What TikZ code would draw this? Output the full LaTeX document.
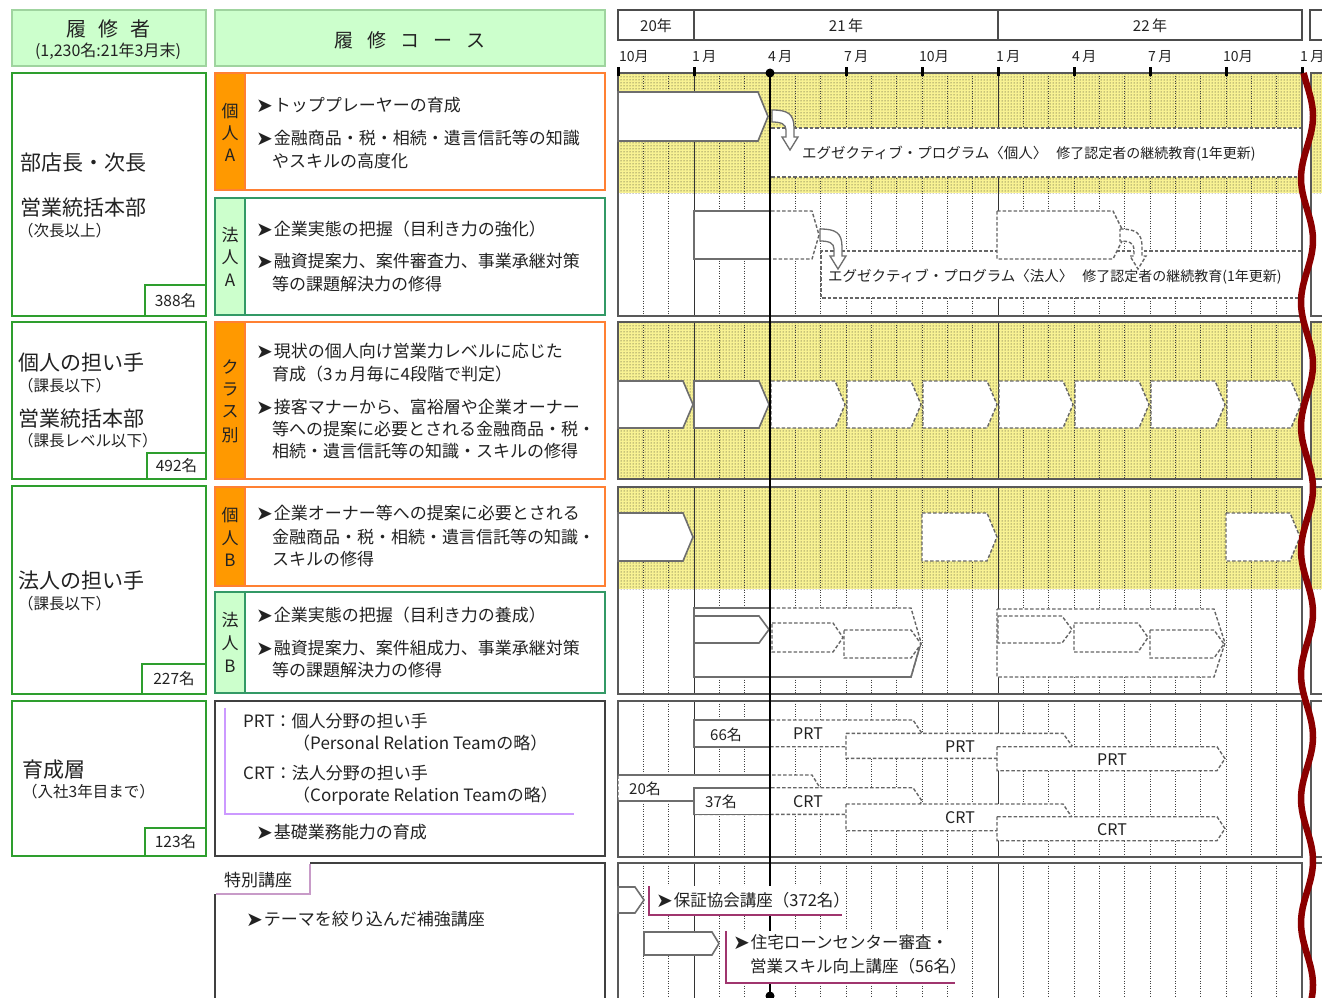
\documentclass[tikz,border=0pt]{standalone}
\usepackage{fontspec}
\setmainfont{Noto Sans CJK JP}
\newfontfamily\dejavu{DejaVu Sans}
\usetikzlibrary{patterns}
\definecolor{hdrfill}{HTML}{CCFFCC}
\definecolor{hdrdraw}{HTML}{9FD49F}
\definecolor{lgreen}{HTML}{2E9E2E}
\definecolor{cgreen}{HTML}{339966}
\definecolor{corange}{HTML}{FF8033}
\definecolor{orfill}{HTML}{FF9900}
\definecolor{ybg}{HTML}{F8F293}
\definecolor{wred}{HTML}{8B0000}
\definecolor{purp}{HTML}{CC99FF}
\definecolor{mauve}{HTML}{C89BC8}
\definecolor{callc}{HTML}{A0356E}
\definecolor{sgray}{HTML}{6E6E6E}
\definecolor{ink}{HTML}{222222}
\newcommand{\fs}[1]{\fontsize{#1}{#1}\selectfont}
\newcommand{\bul}{{\dejavu\fs{20}\raisebox{-1pt}{➤}}\hspace{1pt}}
\newcommand{\penta}[6][]{\draw[#1] (#2,#4) -- ({#3-#6},#4) -- (#3,{(#4+#5)/2}) -- ({#3-#6},#5) -- (#2,#5) -- cycle;}
\newcommand{\tpanel}[3]{%
  \fill[white] (618,#1) rectangle (1302,#2);
  \fill[white] (1311,#1) rectangle (1340,#2);
  \ifdim #3pt>#1pt
    \fill[ybg] (618,#1) rectangle (1302,#3);
    \fill[pattern=dots, pattern color=black!85] (618,#1) rectangle (1302,#3);
    \fill[ybg] (1311,#1) rectangle (1340,#3);
    \fill[pattern=dots, pattern color=black!85] (1311,#1) rectangle (1340,#3);
  \fi
  \foreach \k in {1,...,26}{\draw[mline] ({618+\k*76/3},#1) -- ({618+\k*76/3},#2);}
  \draw[yline] (694,#1) -- (694,#2);
  \draw[yline] (998,#1) -- (998,#2);
  \draw[pbord] (618,#1) rectangle (1302,#2);
  \draw[pbord] (1311,#1) rectangle (1340,#2);
}
\tikzset{uturn/.pic={
  \draw[pic actions] (0,0) .. controls (16,0) and (22,4) .. (22,18) -- (22,27) -- (26,27) -- (18,40) -- (10,27) -- (14,27) -- (14,20) .. controls (14,14) and (9,12) .. (0,12) -- cycle;
}}
\begin{document}
\begin{tikzpicture}[x=1pt,y=-1pt,
  hbox/.style={draw=black!70, line width=1.2pt, fill=white},
  mline/.style={black!75, line width=0.7pt, dash pattern=on 1pt off 1.5pt},
  yline/.style={black!80, line width=1pt},
  pbord/.style={draw=black!65, line width=1.5pt},
  sshape/.style={draw=sgray, line width=1.6pt, fill=white},
  dshape/.style={draw=black!60, line width=1.4pt, dash pattern=on 3.5pt off 2pt, fill=white},
  dline/.style={draw=black!60, line width=1.4pt, dash pattern=on 3.5pt off 2pt},
  sline/.style={draw=sgray, line width=1.6pt},
  hdr/.style={draw=hdrdraw, line width=2pt, fill=hdrfill},
  lbox/.style={draw=lgreen, line width=2pt, fill=white},
  obox/.style={draw=corange, line width=2pt},
  gbox/.style={draw=cgreen, line width=2pt},
  kbox/.style={draw=black!75, line width=1.2pt},
  tt/.style={inner sep=0pt, anchor=west, text=ink},
  big/.style={tt, font=\fs{21}},
  sml/.style={tt, font=\fs{15.5}},
  cnt/.style={inner sep=0pt, text=ink, font=\fs{15.5}},
  ct/.style={tt, font=\fs{17}},
  sl/.style={inner sep=0pt, text=ink, font=\fs{17}},
  tl/.style={tt, font=\fs{14}},
  rl/.style={inner sep=0pt, text=ink, font=\fs{16}},
]
\useasboundingbox (0,0) rectangle (1322,998);
\fill[white] (0,0) rectangle (1322,998);

% ---------- headers ----------
\draw[hdr] (12,10) rectangle (206,66);
\draw[hdr] (215,10) rectangle (605,66);
\node[inner sep=0pt, text=ink, font=\fs{20}] (h1) at (108,29) {履\hspace{12pt}修\hspace{12pt}者};
\node[inner sep=0pt, text=ink, font=\fs{16}] (h2) at (108,51) {(1,230名:21年3月末)};
\node[inner sep=0pt, text=ink, font=\fs{19}] (h3) at (410,40) {履\hspace{14pt}修\hspace{14pt}コ\hspace{14pt}ー\hspace{14pt}ス};

% ---------- left column ----------
\draw[lbox] (12,73) rectangle (206,316);
\draw[lbox] (145,285) rectangle (206,316);
\draw[lbox] (12,322) rectangle (206,479);
\draw[lbox] (147,453) rectangle (206,479);
\draw[lbox] (12,486) rectangle (206,694);
\draw[lbox] (142,664) rectangle (206,694);
\draw[lbox] (12,701) rectangle (206,856);
\draw[lbox] (145,828) rectangle (206,856);
\node[big] (n1) at (20,163) {部店長・次長};
\node[big] (n2) at (20,208) {営業統括本部};
\node[sml] (n3) at (18,231) {（次長以上）};
\node[big] (n4) at (18,363) {個人の担い手};
\node[sml] (n5) at (18,386) {（課長以下）};
\node[big] (n6) at (18,419) {営業統括本部};
\node[sml] (n7) at (18,441) {（課長レベル以下）};
\node[big] (n8) at (18,581) {法人の担い手};
\node[sml] (n9) at (18,604) {（課長以下）};
\node[big] (n10) at (22,770) {育成層};
\node[sml] (n11) at (22,792) {（入社3年目まで）};
\node[cnt] (c1) at (175.5,300.5) {388名};
\node[cnt] (c2) at (176.5,466) {492名};
\node[cnt] (c3) at (174,679) {227名};
\node[cnt] (c4) at (175.5,842) {123名};

% ---------- course column ----------
\fill[orfill] (215,73) rectangle (245,190);
\draw[obox] (215,73) rectangle (605,190) (245,73) -- (245,190);
\fill[hdrfill] (215,198) rectangle (245,315);
\draw[gbox] (215,198) rectangle (605,315) (245,198) -- (245,315);
\fill[orfill] (215,322) rectangle (245,479);
\draw[obox] (215,322) rectangle (605,479) (245,322) -- (245,479);
\fill[orfill] (215,487) rectangle (245,586);
\draw[obox] (215,487) rectangle (605,586) (245,487) -- (245,586);
\fill[hdrfill] (215,592) rectangle (245,693);
\draw[gbox] (215,592) rectangle (605,693) (245,592) -- (245,693);
\draw[kbox] (215,701) rectangle (605,856);
\draw[kbox] (215,863) rectangle (605,1005);

\node[sl] (s1) at (230,111) {個};
\node[sl] (s2) at (230,133) {人};
\node[sl] (s3) at (230,155) {A};
\node[sl] (s4) at (230,235) {法};
\node[sl] (s5) at (230,257) {人};
\node[sl] (s6) at (230,280) {A};
\node[sl] (s7) at (230,367) {ク};
\node[sl] (s8) at (230,390) {ラ};
\node[sl] (s9) at (230,412) {ス};
\node[sl] (s10) at (230,435) {別};
\node[sl] (s11) at (230,515) {個};
\node[sl] (s12) at (230,538) {人};
\node[sl] (s13) at (230,560) {B};
\node[sl] (s14) at (230,620) {法};
\node[sl] (s15) at (230,643) {人};
\node[sl] (s16) at (230,666) {B};

\node[ct] (a1) at (256,105) {\bul トッププレーヤーの育成};
\node[ct] (a2) at (256,138) {\bul 金融商品・税・相続・遺言信託等の知識};
\node[ct] (a3) at (272,161) {やスキルの高度化};
\node[ct] (b1) at (256,229) {\bul 企業実態の把握（目利き力の強化）};
\node[ct] (b2) at (256,261) {\bul 融資提案力、案件審査力、事業承継対策};
\node[ct] (b3) at (272,284) {等の課題解決力の修得};
\node[ct] (k1) at (256,351) {\bul 現状の個人向け営業力レベルに応じた};
\node[ct] (k2) at (272,374) {育成（3ヵ月毎に4段階で判定）};
\node[ct] (k3) at (256,407) {\bul 接客マナーから、富裕層や企業オーナー};
\node[ct] (k4) at (272,429) {等への提案に必要とされる金融商品・税・};
\node[ct] (k5) at (272,451) {相続・遺言信託等の知識・スキルの修得};
\node[ct] (d1) at (256,513) {\bul 企業オーナー等への提案に必要とされる};
\node[ct] (d2) at (272,537) {金融商品・税・相続・遺言信託等の知識・};
\node[ct] (d3) at (272,559) {スキルの修得};
\node[ct] (e1) at (256,615) {\bul 企業実態の把握（目利き力の養成）};
\node[ct] (e2) at (256,648) {\bul 融資提案力、案件組成力、事業承継対策};
\node[ct] (e3) at (272,670) {等の課題解決力の修得};

\draw[purp, line width=2.5pt] (225,708) -- (225,814) -- (574,814);
\node[ct] (f1) at (243,721) {PRT：個人分野の担い手};
\node[ct] (f2) at (293,743) {（Personal Relation Teamの略）};
\node[ct] (f3) at (243,773) {CRT：法人分野の担い手};
\node[ct] (f4) at (293,796) {（Corporate Relation Teamの略）};
\node[ct] (f5) at (256,832) {\bul 基礎業務能力の育成};

\fill[white] (214,861) rectangle (310,894);
\draw[mauve, line width=2.5pt] (310,864) -- (310,894) -- (216,894);
\node[ct] (g0) at (224,880) {特別講座};
\node[ct] (g1) at (246,919) {\bul テーマを絞り込んだ補強講座};

% ---------- timeline header ----------
\draw[hbox] (618,10) rectangle (694,40);
\draw[hbox] (694,10) rectangle (998,40);
\draw[hbox] (998,10) rectangle (1302,40);
\draw[hbox] (1310,10) rectangle (1340,40);
\node[rl, font=\fs{15}] (y20) at (656,26) {20年};
\node[rl, font=\fs{15}] (y21) at (846,26) {21\,年};
\node[rl, font=\fs{15}] (y22) at (1150,26) {22\,年};
\node[tl] (m1) at (619,57) {10月};
\node[tl] (m2) at (692,57) {1\,月};
\node[tl] (m3) at (768,57) {4\,月};
\node[tl] (m4) at (844,57) {7\,月};
\node[tl] (m5) at (919,57) {10月};
\node[tl] (m6) at (996,57) {1\,月};
\node[tl] (m7) at (1072,57) {4\,月};
\node[tl] (m8) at (1148,57) {7\,月};
\node[tl] (m9) at (1223,57) {10月};
\node[tl] (m10) at (1300,57) {1\,月};

% ---------- timeline panels ----------
\tpanel{73}{316}{193}
\tpanel{322}{479}{479}
\tpanel{487}{694}{589}
\tpanel{701}{857}{701}
\tpanel{863}{1010}{863}

\foreach \x in {618,694,846,922,998,1074,1150,1226,1302} \fill[black] ({\x-1.5},67) rectangle ({\x+1.5},76);

% row: individual A
\penta[sshape]{618}{768}{92}{141}{10}
\fill[white] (771,128) rectangle (1301,177);
\draw[dline] (771,128) -- (1301,128) (771,177) -- (1301,177);
\pic[draw=sgray, fill=white, line width=1.3pt] at (772,110) {uturn};
\node[tt, font=\fs{14.5}] (x1) at (802,154) {エグゼクティブ・プログラム〈個人〉\hspace{9pt}{\fs{14}修了認定者の継続教育(1年更新)}};

% row: corporate A
\fill[white] (821,251) rectangle (1301,298);
\draw[dline] (1301,251) -- (821,251) -- (821,298) -- (1301,298);
\penta[dshape]{694}{819}{211}{259}{7}
\draw[sline] (770,211) -- (694,211) -- (694,259) -- (770,259);
\penta[dshape]{997}{1125}{211}{259}{12}
\pic[draw=sgray, fill=white, line width=1.3pt] at (820,229) {uturn};
\pic[dshape] at (1120,229) {uturn};
\node[tt, font=\fs{14.5}] (x2) at (828,277) {エグゼクティブ・プログラム〈法人〉\hspace{9pt}{\fs{14}修了認定者の継続教育(1年更新)}};

% row: class
\foreach \x in {618,694} {\penta[sshape]{\x}{\x+75}{381}{428}{10}}
\foreach \x in {770,846,...,1226} {\penta[dshape]{\x+1}{\x+75}{381}{428}{10}}

% row: individual B
\penta[sshape]{618}{693}{513}{561}{10}
\penta[dshape]{922}{997}{513}{561}{10}
\penta[dshape]{1226}{1300}{513}{561}{10}

% row: corporate B
\penta[dshape]{694}{921}{608}{677}{10}
\draw[sline] (770,608) -- (694,608) -- (694,677) -- (911,677) -- (921,642.5);
\penta[sshape]{694}{769}{616}{643}{10}
\penta[dshape]{772}{843}{623}{652}{10}
\penta[dshape]{844}{921}{630}{658}{10}
\penta[dshape]{997}{1225}{609}{677}{11}
\penta[dshape]{998}{1072}{616}{643}{10}
\penta[dshape]{1074}{1148}{623}{652}{10}
\penta[dshape]{1150}{1224}{630}{658}{10}

% row: PRT / CRT
\penta[dshape]{694}{922}{720}{746.7}{9}
\penta[dshape]{846}{1072}{733.3}{758.3}{9}
\penta[dshape]{997}{1225}{746.7}{770.7}{8}
\draw[sline, fill=white] (770,720) -- (694,720) -- (694,746.7) -- (770,746.7);
\penta[dshape]{618}{820}{775}{800.7}{8}
\penta[dshape]{694}{922}{787.7}{814.3}{9}
\penta[dshape]{846}{1072}{804}{830.7}{9}
\penta[dshape]{997}{1225}{816.7}{840.7}{8}
\draw[sline] (770,775) -- (618,775) (618,800.7) -- (694,800.7);
\draw[sline, fill=white] (770,787.7) -- (694,787.7) -- (694,814.3) -- (770,814.3);
\node[cnt, font=\fs{15}] (p66) at (726,735) {66名};
\node[cnt, font=\fs{15}] (p20) at (645,789) {20名};
\node[cnt, font=\fs{15}] (p37) at (721,802) {37名};
\node[rl] (pr1) at (808,734) {PRT};
\node[rl] (pr2) at (960,747) {PRT};
\node[rl] (pr3) at (1112,760) {PRT};
\node[rl] (cr1) at (808,802) {CRT};
\node[rl] (cr2) at (960,818) {CRT};
\node[rl] (cr3) at (1112,830) {CRT};

% row: special courses
\penta[sshape]{618}{644}{887}{913}{9}
\penta[sshape]{644}{719}{932}{955}{7}

% current date line
\draw[black, line width=2.6pt] (770,73) -- (770,996);
\fill[black] (770,73) circle (4.5);
\fill[black] (770,996) circle (4.5);

% callouts
\fill[white] (649,886) rectangle (842,914);
\draw[callc, line width=2.5pt] (649,886) -- (649,915) -- (842,915);
\node[tt, font=\fs{16.5}] (q1) at (656,900) {\bul 保証協会講座（372名）};
\fill[white] (726,931) rectangle (955,982);
\draw[callc, line width=2.5pt] (726,931) -- (726,983) -- (955,983);
\node[tt, font=\fs{16.5}] (q2) at (733,942) {\bul 住宅ローンセンター審査・};
\node[tt, font=\fs{16.5}] (q3) at (750,966) {営業スキル向上講座（56名）};

% wavy break line
\draw[wred, line width=6.5pt] plot[smooth, samples=110, domain=73:1002, variable=\t] ({1307+6*sin((\t-73)*2.9-35)},\t);
\end{tikzpicture}
\end{document}
